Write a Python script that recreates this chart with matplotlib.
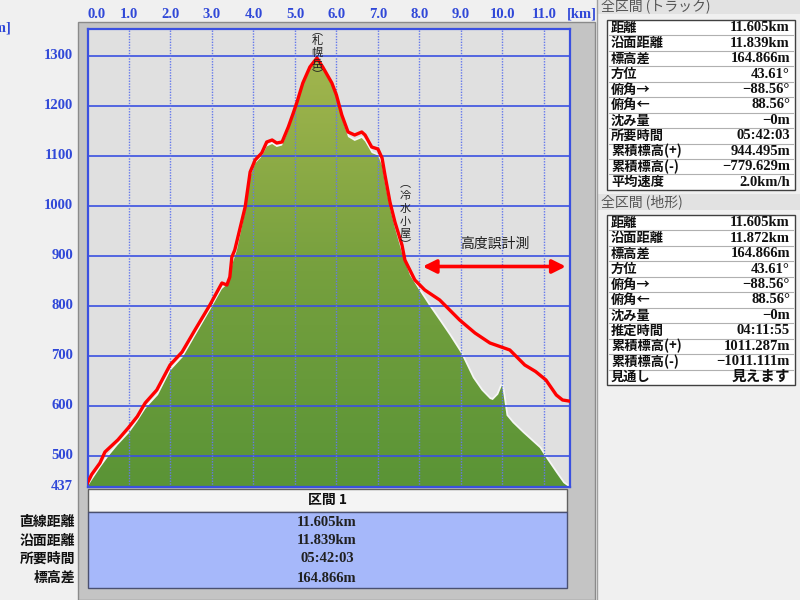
import numpy as np
import matplotlib
matplotlib.use('Agg')
import matplotlib.pyplot as plt
import matplotlib.transforms as mtransforms
from matplotlib.colors import LinearSegmentedColormap
from matplotlib.patches import Rectangle, Polygon
from matplotlib.lines import Line2D

# elevation profile: distance [km] / elevation [m]
track_km = [0.0, 0.1, 0.3, 0.42, 0.6, 0.73, 0.98, 1.2, 1.39, 1.67, 1.99, 2.28,
            2.59, 2.95, 3.24, 3.36, 3.43, 3.48, 3.55, 3.8, 3.92, 4.04, 4.2,
            4.32, 4.45, 4.56, 4.69, 4.84, 4.96, 5.05, 5.19, 5.36, 5.53, 5.67,
            5.89, 6.0, 6.13, 6.28, 6.44, 6.61, 6.69, 6.85, 7.0, 7.1, 7.17,
            7.29, 7.41, 7.58, 7.65, 7.89, 8.13, 8.49, 8.97, 9.34, 9.7, 10.18,
            10.54, 10.8, 11.05, 11.3, 11.45, 11.6]
track_m = [445, 462, 485, 507, 521, 531, 555, 578, 605, 631, 681, 707,
           751, 801, 845, 841, 857, 897, 911, 997, 1067, 1091, 1105,
           1127, 1131, 1125, 1127, 1157, 1185, 1207, 1245, 1277, 1295, 1277,
           1245, 1221, 1181, 1147, 1141, 1147, 1141, 1117, 1113, 1095, 1061,
           1007, 967, 921, 891, 851, 831, 811, 771, 745, 725, 711,
           681, 668, 651, 621, 611, 609]

terrain_km = [0.0, 0.1, 0.3, 0.5, 0.73, 1.0, 1.2, 1.4, 1.7, 2.0, 2.3, 2.6, 2.95,
              3.24, 3.4, 3.5, 3.6, 3.8, 3.92, 4.04, 4.2, 4.32, 4.45, 4.56,
              4.69, 4.84, 4.96, 5.05, 5.19, 5.36, 5.53, 5.67, 5.89, 6.0, 6.13,
              6.28, 6.44, 6.61, 6.69, 6.85, 7.0, 7.1, 7.17, 7.29, 7.41, 7.58,
              7.77, 8.0, 8.25, 8.5, 8.73, 9.0, 9.29, 9.5, 9.7, 9.77, 9.9, 9.99,
              10.03, 10.1, 10.25, 10.5, 10.7, 10.9, 11.07, 11.3, 11.47, 11.6]
terrain_m = [437, 450, 475, 498, 521, 545, 568, 594, 621, 670, 697, 740, 790,
             833, 845, 885, 910, 988, 1057, 1084, 1098, 1118, 1123, 1117,
             1120, 1150, 1180, 1203, 1241, 1275, 1292, 1274, 1240, 1215, 1175,
             1137, 1129, 1135, 1128, 1105, 1100, 1080, 1045, 995, 955, 905,
             861, 830, 798, 768, 740, 705, 655, 630, 613, 611, 622, 640,
             620, 580, 565, 545, 530, 515, 493, 465, 445, 437]

x_ticks = [0, 1, 2, 3, 4, 5, 6, 7, 8, 9, 10, 11]
y_ticks = [437, 500, 600, 700, 800, 900, 1000, 1100, 1200, 1300]

section_labels = ['直線距離', '沿面距離', '所要時間', '標高差']
section_values = ['11.605km', '11.839km', '05:42:03', '164.866m']

track_labels = ['距離', '沿面距離', '標高差', '方位', '俯角→', '俯角←', '沈み量',
                '所要時間', '累積標高(+)', '累積標高(-)', '平均速度']
track_values = ['11.605km', '11.839km', '164.866m', '43.61°', '−88.56°',
                '88.56°', '−0m', '05:42:03', '944.495m', '−779.629m', '2.0km/h']
terr_labels = ['距離', '沿面距離', '標高差', '方位', '俯角→', '俯角←', '沈み量',
               '推定時間', '累積標高(+)', '累積標高(-)', '見通し']
terr_values = ['11.605km', '11.872km', '164.866m', '43.61°', '−88.56°',
               '88.56°', '−0m', '04:11:55', '1011.287m', '−1011.111m', '見えます']

W, H = 800, 600
def fx(x):
    return x / W
def fy(y):
    return 1 - y / H

NUM = ['Liberation Serif', 'Noto Sans CJK JP', 'DejaVu Sans']
JP = ['Noto Sans CJK JP', 'DejaVu Sans']
BLUE = '#3048d8'

fig = plt.figure(figsize=(8, 6), dpi=100, facecolor='#f0f0f0')

# gray panel behind the chart
fig.patches.append(Rectangle((fx(78), fy(600)), fx(595) - fx(78), fy(22) - fy(600),
                             transform=fig.transFigure, facecolor='#c4c4c4',
                             edgecolor='#8a8a8a', lw=1, zorder=-5))

ax = fig.add_axes([fx(87.5), fy(487), fx(570) - fx(87.5), fy(29) - fy(487)])
ax.set_zorder(2)
ax.set_facecolor('#e0e0e0')

# gradient terrain fill clipped to the profile
cmap = LinearSegmentedColormap.from_list('terr', ['#5a9436', '#76a03e', '#a3b64e'])
grad = np.linspace(0, 1, 256).reshape(-1, 1)
im = ax.imshow(grad, extent=[0, 11.63, 437, 1300], origin='lower', aspect='auto',
               cmap=cmap, zorder=1)
verts = list(zip(terrain_km, terrain_m)) + [(terrain_km[-1], 437), (terrain_km[0], 437)]
poly = Polygon(verts, closed=True, facecolor='none', edgecolor='none')
ax.add_patch(poly)
im.set_clip_path(poly)
ax.plot(terrain_km, terrain_m, color='#f6f6f6', lw=2.6, zorder=0.9)

ax.set_xlim(0, 11.63)
ax.set_ylim(437, 1353)

for y in y_ticks[1:]:
    ax.axhline(y, color='#3a50e0', lw=1.2, zorder=2)
for k in x_ticks[1:]:
    ax.axvline(k, color='#6478ec', lw=1, ls=(0, (1, 1)), zorder=2)

ax.plot(track_km, track_m, color='#ff0000', lw=2.4, zorder=3)

ax.set_xticks([])
ax.set_yticks([])
for s in ax.spines.values():
    s.set_color('#3a50e0')
    s.set_linewidth(1.6)

# axis labels
ty = mtransforms.blended_transform_factory(fig.transFigure, ax.transData)
for v in y_ticks:
    fig.text(fx(73), v, str(v), transform=ty, ha='right', va='center',
             family=NUM, weight='bold', fontsize=10.5, color=BLUE)
fig.text(fx(12), fy(28), '[m]', ha='right', va='center', family=NUM,
         weight='bold', fontsize=10.5, color=BLUE)
tx = mtransforms.blended_transform_factory(ax.transData, fig.transFigure)
for k in x_ticks:
    fig.text(k, fy(14), f'{k:.1f}', transform=tx, ha='left' if k == 0 else 'center',
             va='center', family=NUM, weight='bold', fontsize=10.5, color=BLUE)
fig.text(fx(582), fy(14), '[km]', ha='center', va='center', family=NUM,
         weight='bold', fontsize=10.5, color=BLUE)

# vertical place names
def vlabel(xk, chars, ys):
    for c, yv in zip(chars, ys):
        ax.text(xk, yv, c, ha='center', va='center', family=JP, fontsize=8,
                color='#202020', zorder=4)

vlabel(5.53, ['︵', '札', '幌', '岳', '︶'], [1349, 1329, 1305, 1281, 1262])
vlabel(7.65, ['︵', '冷', '水', '小', '屋', '︶'], [1044, 1019, 993, 967, 943, 922])

ax.annotate('', xy=(11.53, 878), xytext=(8.08, 878),
            arrowprops=dict(arrowstyle='<|-|>', color='#ff0000', lw=2.6,
                            mutation_scale=20, shrinkA=0, shrinkB=0), zorder=4)
ax.text(9.82, 924, '高度誤計測', ha='center', va='center', family=JP,
        fontsize=10, color='#202020', zorder=4)

# section table under the chart
fig.patches.append(Rectangle((fx(88), fy(512)), fx(567) - fx(88), fy(489) - fy(512),
                             transform=fig.transFigure, facecolor='#f4f4f4',
                             edgecolor='#606060', lw=1, zorder=1))
fig.patches.append(Rectangle((fx(88), fy(588)), fx(567) - fx(88), fy(512) - fy(588),
                             transform=fig.transFigure, facecolor='#a6b8fa',
                             edgecolor='#4a5070', lw=1, zorder=1))
fig.text(fx(327), fy(500), '区間 1', ha='center', va='center', family=JP,
         weight='bold', fontsize=10, color='#101010')
row_y = [522, 541, 559, 578]
for lab, val, y in zip(section_labels, section_values, row_y):
    fig.text(fx(75), fy(y), lab, ha='right', va='center', family=JP,
             weight='bold', fontsize=10, color='#101010')
    fig.text(fx(327), fy(y), val, ha='center', va='center', family=NUM,
             weight='bold', fontsize=10.5, color='#202020')

# right info panel
fig.lines.append(Line2D([fx(597), fx(597)], [0, 1], transform=fig.transFigure,
                        color='#a0a0a0', lw=1))

def info_table(title, title_y, top, labels, values):
    fig.patches.append(Rectangle((fx(598), fy(title_y + 8)), fx(800) - fx(598), 16 / H,
                                 transform=fig.transFigure, facecolor='#e2e2e2',
                                 edgecolor='none', zorder=0))
    fig.text(fx(601), fy(title_y), title, ha='left', va='center', family=JP,
             fontsize=10, color='#555555')
    rh = 15.45
    bottom = top + rh * len(labels)
    fig.patches.append(Rectangle((fx(607), fy(bottom)), fx(795) - fx(607), fy(top) - fy(bottom),
                                 transform=fig.transFigure, facecolor='white',
                                 edgecolor='#404040', lw=1, zorder=0))
    for i, (lab, val) in enumerate(zip(labels, values)):
        yc = top + rh * (i + 0.5)
        if i > 0:
            fig.lines.append(Line2D([fx(609), fx(793)], [fy(top + rh * i)] * 2,
                                    transform=fig.transFigure, color='#b0b0b0', lw=0.8))
        fig.text(fx(611), fy(yc), lab, ha='left', va='center', family=JP,
                 weight='bold', fontsize=9.5, color='#101010')
        fig.text(fx(790), fy(yc), val, ha='right', va='center', family=NUM,
                 weight='bold', fontsize=10.5, color='#101010')

info_table('全区間 (トラック)', 6, 20, track_labels, track_values)
info_table('全区間 (地形)', 202, 215, terr_labels, terr_values)

fig.savefig('out.png', dpi=100, facecolor=fig.get_facecolor())
